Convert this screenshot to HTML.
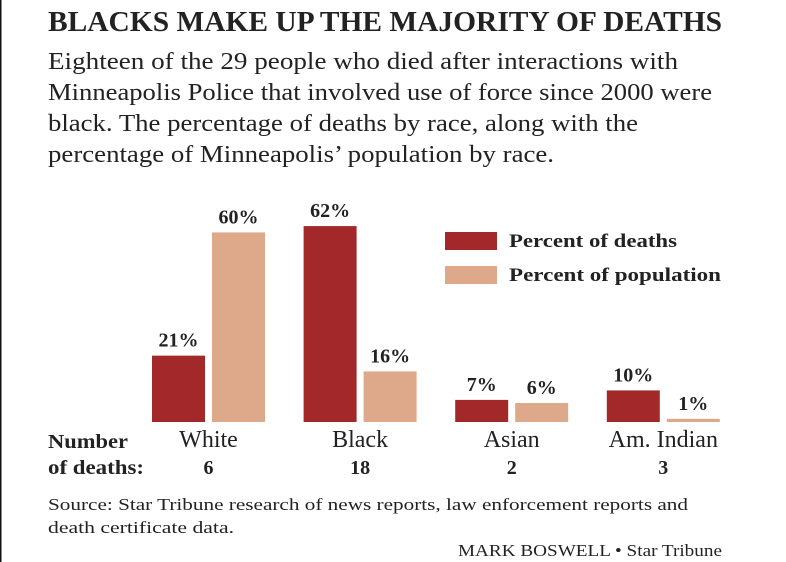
<!DOCTYPE html>
<html><head><meta charset="utf-8"><style>
html,body{margin:0;padding:0;background:#fff;}
svg{display:block;}
text{font-family:"Liberation Serif",serif;fill:#222;}
</style></head><body>
<svg width="786" height="562" viewBox="0 0 786 562">
<line x1="0.5" y1="0" x2="0.5" y2="562" stroke="#111" stroke-width="2"/>
<text x="48" y="31" font-size="28" font-weight="bold" textLength="674" lengthAdjust="spacingAndGlyphs">BLACKS MAKE UP THE MAJORITY OF DEATHS</text>
<g font-size="24">
<text x="48" y="69" textLength="630" lengthAdjust="spacingAndGlyphs">Eighteen of the 29 people who died after interactions with</text>
<text x="48" y="100" textLength="664" lengthAdjust="spacingAndGlyphs">Minneapolis Police that involved use of force since 2000 were</text>
<text x="48" y="131" textLength="590" lengthAdjust="spacingAndGlyphs">black. The percentage of deaths by race, along with the</text>
<text x="48" y="162" textLength="506" lengthAdjust="spacingAndGlyphs">percentage of Minneapolis’ population by race.</text>
</g>
<g>
<rect x="445" y="232" width="52" height="18" fill="#a3282a"/>
<text x="509" y="247" font-size="19" font-weight="bold" textLength="168" lengthAdjust="spacingAndGlyphs">Percent of deaths</text>
<rect x="445" y="266" width="52" height="18" fill="#dea88a"/>
<text x="509" y="281" font-size="19" font-weight="bold" textLength="212" lengthAdjust="spacingAndGlyphs">Percent of population</text>
</g>
<g id="bars"></g>
<text x="48" y="448" font-size="20" font-weight="bold" textLength="80" lengthAdjust="spacingAndGlyphs">Number</text>
<text x="48" y="474" font-size="20" font-weight="bold" textLength="96" lengthAdjust="spacingAndGlyphs">of deaths:</text>
<g font-size="17">
<text x="48" y="510" textLength="640" lengthAdjust="spacingAndGlyphs">Source: Star Tribune research of news reports, law enforcement reports and</text>
<text x="48" y="533" textLength="186" lengthAdjust="spacingAndGlyphs">death certificate data.</text>
</g>
<text x="722" y="556" font-size="17" text-anchor="end" textLength="264" lengthAdjust="spacingAndGlyphs">MARK BOSWELL • Star Tribune</text>
</svg>
<script>
const categories = ["White","Black","Asian","Am. Indian"];
const deathsPct = [21,62,7,10];
const popPct = [60,16,6,1];
const deathCounts = [6,18,2,3];

const ns="http://www.w3.org/2000/svg";
const g=document.getElementById('bars');
const baseY=422, pxPerPct=3.16, x0=152, pitch=151.6, bw=53, gap=7;
function mk(tag,attrs){const e=document.createElementNS(ns,tag);for(const k in attrs)e.setAttribute(k,attrs[k]);return e;}
categories.forEach((c,i)=>{
  const gx=x0+i*pitch;
  const series=[[deathsPct[i],"#a3282a","deaths"],[popPct[i],"#dea88a","population"]];
  series.forEach((s,j)=>{
    const bx=gx+j*(bw+gap);
    const h=Math.max(s[0]*pxPerPct,2);
    const r=mk('rect',{x:bx,y:baseY-h,width:bw,height:h,fill:s[1]});
    
    
    g.appendChild(r);
    const t=mk('text',{x:bx+bw/2,y:baseY-h-9,'text-anchor':'middle','font-size':20,'font-weight':'bold'});
    t.textContent=s[0]+'%';
    
    
    g.appendChild(t);
  });
  const cx=gx+bw+gap/2;
  const cl=mk('text',{x:cx,y:447,'text-anchor':'middle','font-size':24});
  cl.textContent=c;
  
  
  g.appendChild(cl);
  const n=mk('text',{x:cx,y:474,'text-anchor':'middle','font-size':20,'font-weight':'bold'});
  n.textContent=deathCounts[i];
  
  
  g.appendChild(n);
});
</script>
</body></html>
